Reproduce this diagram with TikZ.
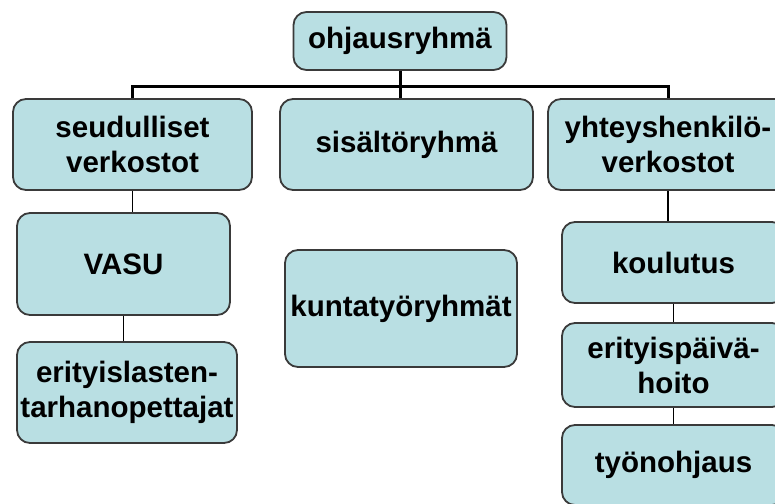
\documentclass[tikz,border=0pt]{standalone}
\usepackage{fontspec}
\setmainfont{Liberation Sans}
\usepackage{tikz}
\usetikzlibrary{positioning}
\usepackage{xcolor}
\definecolor{orgcyan}{RGB}{185,223,227}
\definecolor{orgedge}{RGB}{58,58,58}
\tikzstyle{bus} = [line width=3pt,color=black]
\tikzstyle{link} = [line width=1.8pt,color=black]
\tikzstyle{unit} = [rectangle, rounded corners=13pt, inner sep=0pt, align=center, draw=orgedge, fill=orgcyan, line width=1.8pt, font=\fontsize{29.5}{35}\selectfont\bfseries]

\begin{document}
\begin{tikzpicture}[x=1pt, y=-1pt]
\useasboundingbox (0,0) rectangle (775,503);
\clip (0,0) rectangle (775,503);
% top level
\node (ohjaus) [unit, minimum width=213pt, minimum height=58pt] at (400,41) {ohjausryhmä};

% second row
\node (seudul) [unit, minimum width=239pt, minimum height=91pt] at (132.5,144.5) {seudulliset\\verkostot};
\node (sisalto) [unit, minimum width=253pt, minimum height=91pt] at (406.5,144.5) {sisältöryhmä};
\node (yhteys) [unit, minimum width=240pt, minimum height=91pt] at (668,144.5) {yhteyshenkilö-\\verkostot};

% left column
\node (vasu) [unit, minimum width=213pt, minimum height=102pt] at (123.5,264) {VASU};
\node (erityisl) [unit, minimum width=220pt, minimum height=101pt] at (127,392.5) {erityislasten-\\tarhanopettajat};

% middle
\node (kunta) [unit, minimum width=232pt, minimum height=117pt] at (401,308.5) {kuntatyöryhmät};

% right column
\node (koulutus) [unit, minimum width=223pt, minimum height=81pt] at (673.5,262.5) {koulutus};
\node (erityisp) [unit, minimum width=223pt, minimum height=84pt] at (673.5,365) {erityispäivä-\\hoito};
\node (tyonohj) [unit, minimum width=223pt, minimum height=80pt] at (673.5,465) {työnohjaus};

% connectors
\draw[bus] (seudul.north) -- ++(0,-12) -| (yhteys.north);
\draw[bus] (ohjaus.south) -- (ohjaus.south |- sisalto.north);
\draw[link] (seudul.south) -- (seudul.south |- vasu.north);
\draw[link] (vasu.south) -- (vasu.south |- erityisl.north);
\draw[link] (yhteys.south) -- (yhteys.south |- koulutus.north);
\draw[link] (koulutus.south) -- (koulutus.south |- erityisp.north);
\draw[link] (erityisp.south) -- (erityisp.south |- tyonohj.north);
\end{tikzpicture}
\end{document}
